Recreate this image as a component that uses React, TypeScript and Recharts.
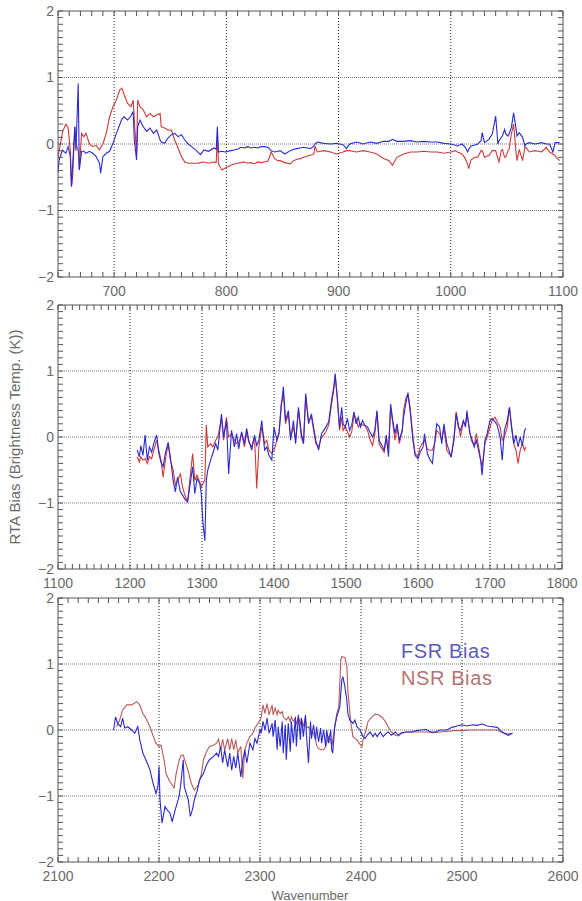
import { Line, LineChart, ReferenceLine, XAxis, YAxis } from "recharts";

// ---- panel 1 : 650 - 1100 ----
const p1Wn = [
  650, 651, 654, 657, 659, 661, 662, 663, 665, 666, 668, 669, 671, 673, 675, 678, 681, 684, 687, 688,
  690, 693, 696, 699, 702, 705, 707, 709, 712, 715, 717, 718, 720, 721, 723, 726, 729, 732, 735, 738,
  741, 742, 745, 748, 751, 754, 757, 760, 763, 766, 769, 774, 777, 780, 784, 789, 791, 792, 793, 796,
  799, 804, 807, 810, 813, 816, 819, 822, 825, 828, 831, 834, 837, 840, 843, 846, 848, 852, 857, 860,
  863, 866, 869, 872, 875, 878, 879, 881, 887, 893, 898, 904, 907, 910, 916, 922, 928, 934, 940, 945,
  948, 952, 958, 964, 970, 976, 982, 988, 994, 1000, 1004, 1006, 1010, 1013, 1015, 1016, 1018, 1021, 1024, 1027,
  1028, 1030, 1034, 1037, 1040, 1042, 1043, 1045, 1046, 1048, 1049, 1051, 1052, 1054, 1056, 1058, 1059, 1061, 1064, 1066,
  1067, 1070, 1075, 1081, 1085, 1087, 1088, 1091, 1093, 1094, 1097,
];
const p1Fsr = [
  -0.44, -0.24, -0.09, -0.14, -0.04, -0.19, -0.64, -0.34, 0.26, -0.1, 0.91, -0.39, -0.11, -0.11, -0.14, -0.11, -0.14, -0.19, -0.29, -0.44,
  -0.19, -0.14, -0.11, 0.01, 0.16, 0.29, 0.38, 0.41, 0.36, 0.42, 0.49, 0.06, -0.24, 0.26, 0.36, 0.26, 0.19, 0.24, 0.16, 0.21,
  0.06, 0.03, 0.01, 0.09, 0.14, 0.16, 0.11, 0.14, 0.06, 0.0, -0.04, -0.11, -0.16, -0.09, -0.11, -0.06, -0.08, 0.26, -0.12, -0.11,
  -0.12, -0.1, -0.09, -0.08, -0.05, -0.06, -0.04, -0.06, -0.05, -0.06, -0.04, -0.04, -0.05, -0.1, -0.12, -0.11, -0.1, -0.15, -0.1, -0.08,
  -0.07, -0.06, -0.05, -0.06, -0.07, -0.03, 0.0, 0.03, 0.01, 0.0, 0.01, -0.01, -0.07, 0.0, 0.03, 0.0, 0.03, 0.01, 0.04, 0.04,
  0.07, 0.04, 0.04, 0.05, 0.03, 0.04, 0.03, 0.03, 0.01, 0.0, -0.02, -0.03, 0.0, -0.05, -0.12, -0.08, -0.03, -0.02, 0.0, 0.05,
  0.17, 0.02, 0.07, 0.15, 0.42, 0.0, 0.05, 0.1, 0.12, 0.22, 0.15, 0.12, 0.15, 0.25, 0.47, 0.25, 0.12, 0.17, 0.1, -0.03,
  0.0, 0.02, 0.0, 0.02, 0.0, 0.0, 0.0, -0.12, 0.02, 0.02, 0.02,
];
const p1Nsr = [
  -0.2, -0.1, 0.18, 0.3, 0.25, -0.1, -0.64, -0.5, 0.26, 0.0, -0.1, -0.39, 0.16, 0.11, 0.16, 0.0, -0.04, -0.02, -0.09, -0.05,
  0.0, 0.16, 0.41, 0.56, 0.66, 0.81, 0.84, 0.74, 0.61, 0.56, 0.66, 0.36, -0.14, 0.66, 0.56, 0.51, 0.41, 0.46, 0.41, 0.44,
  0.46, 0.26, 0.24, 0.21, 0.21, 0.06, -0.06, -0.19, -0.27, -0.29, -0.29, -0.29, -0.28, -0.27, -0.29, -0.27, -0.28, 0.12, -0.3, -0.39,
  -0.36, -0.32, -0.3, -0.29, -0.28, -0.27, -0.29, -0.28, -0.3, -0.27, -0.28, -0.27, -0.26, -0.12, -0.22, -0.25, -0.25, -0.28, -0.3, -0.25,
  -0.23, -0.22, -0.2, -0.18, -0.17, -0.15, -0.03, -0.12, -0.1, -0.12, -0.15, -0.12, -0.1, -0.1, -0.12, -0.1, -0.12, -0.15, -0.22, -0.25,
  -0.32, -0.2, -0.15, -0.12, -0.12, -0.11, -0.12, -0.12, -0.14, -0.12, -0.1, -0.12, -0.15, -0.22, -0.3, -0.37, -0.24, -0.2, -0.2, -0.1,
  -0.1, -0.2, -0.17, -0.1, -0.1, -0.22, -0.27, -0.1, -0.08, -0.2, -0.2, -0.1, -0.08, 0.15, 0.3, -0.1, -0.25, -0.08, -0.25, -0.05,
  -0.05, -0.12, -0.1, -0.12, -0.05, -0.1, -0.12, -0.15, -0.17, -0.2, -0.25,
];

// ---- panel 2 : 1100 - 1800 ----
const p2Wn = [
  1210, 1213, 1215, 1218, 1221, 1224, 1227, 1230, 1233, 1237, 1240, 1243, 1246, 1249, 1253, 1256, 1260, 1263, 1266, 1270,
  1273, 1277, 1280, 1283, 1287, 1290, 1293, 1297, 1299, 1301, 1304, 1306, 1308, 1312, 1315, 1319, 1322, 1327, 1330, 1334,
  1337, 1341, 1345, 1348, 1351, 1355, 1359, 1362, 1365, 1369, 1373, 1376, 1379, 1383, 1387, 1390, 1393, 1397, 1400, 1404,
  1407, 1410, 1413, 1416, 1420, 1423, 1427, 1430, 1434, 1438, 1441, 1444, 1448, 1452, 1455, 1458, 1462, 1466, 1469, 1472,
  1476, 1480, 1483, 1485, 1488, 1491, 1494, 1496, 1499, 1502, 1505, 1508, 1511, 1514, 1517, 1520, 1523, 1526, 1530, 1533,
  1537, 1540, 1543, 1546, 1550, 1553, 1556, 1559, 1562, 1565, 1568, 1571, 1574, 1578, 1580, 1583, 1586, 1589, 1593, 1596,
  1600, 1603, 1607, 1609, 1613, 1616, 1620, 1623, 1626, 1630, 1633, 1636, 1640, 1643, 1646, 1650, 1653, 1656, 1659, 1663,
  1666, 1668, 1672, 1674, 1678, 1681, 1685, 1687, 1689, 1693, 1696, 1700, 1703, 1707, 1710, 1714, 1717, 1720, 1724, 1727,
  1730, 1733, 1736, 1739, 1742, 1745, 1748, 1750,
];
const p2Fsr = [
  -0.2, -0.3, -0.13, -0.28, 0.03, -0.35, -0.15, -0.23, -0.1, 0.03, -0.25, -0.38, -0.45, -0.25, -0.08, -0.3, -0.66, -0.83, -0.61, -0.83,
  -0.88, -0.96, -0.98, -0.76, -0.45, -0.86, -0.63, -0.71, -0.86, -1.26, -1.57, -0.66, -0.5, -0.35, -0.25, -0.1, -0.2, 0.35, 0.0, 0.25,
  -0.56, 0.1, -0.15, 0.05, -0.18, 0.08, -0.1, 0.13, -0.05, -0.2, 0.03, -0.13, -0.05, 0.25, -0.2, -0.15, -0.28, -0.35, 0.15, -0.05,
  0.05, 0.45, 0.76, 0.25, 0.4, -0.05, 0.25, -0.1, 0.45, 0.05, -0.1, 0.66, 0.2, 0.35, 0.15, -0.05, -0.2, 0.05, 0.1, 0.15,
  0.23, 0.56, 0.76, 0.96, 0.56, 0.15, 0.45, 0.2, 0.15, 0.28, 0.1, 0.18, 0.38, 0.2, 0.3, 0.15, 0.25, 0.18, 0.15, 0.08,
  0.0, 0.1, 0.4, -0.05, -0.13, -0.2, 0.03, -0.3, 0.5, 0.25, 0.05, 0.2, -0.05, 0.1, 0.3, 0.5, 0.66, 0.4, -0.05, -0.28,
  -0.33, -0.23, -0.15, 0.05, -0.25, -0.33, -0.4, -0.1, 0.2, 0.15, -0.1, 0.2, -0.1, -0.2, -0.3, -0.05, 0.35, 0.15, 0.1, 0.25,
  0.15, 0.4, 0.05, 0.0, -0.15, -0.05, -0.25, -0.35, -0.58, -0.05, 0.05, 0.25, 0.28, 0.23, 0.18, 0.0, -0.35, 0.1, 0.25, 0.45,
  0.15, -0.1, 0.03, -0.15, 0.0, -0.13, 0.1, 0.13,
];
const p2Nsr = [
  -0.3, -0.38, -0.3, -0.35, -0.33, -0.4, -0.3, -0.33, -0.2, -0.05, -0.2, -0.35, -0.61, -0.35, -0.1, -0.35, -0.5, -0.73, -0.66, -0.56,
  -0.76, -0.91, -0.98, -0.66, -0.25, -0.66, -0.58, -0.68, -0.76, -0.71, -0.66, 0.18, -0.15, -0.1, -0.15, -0.05, 0.0, 0.28, -0.05, 0.3,
  0.0, 0.05, -0.05, -0.1, -0.08, 0.05, -0.15, 0.08, -0.08, -0.15, 0.0, -0.78, -0.15, 0.15, -0.1, -0.05, -0.2, -0.25, -0.2, -0.05,
  0.08, 0.5, 0.66, 0.2, 0.35, 0.0, 0.15, -0.05, 0.4, 0.0, -0.1, 0.61, 0.25, 0.3, 0.1, -0.1, -0.15, 0.0, 0.03, 0.08,
  0.18, 0.5, 0.71, 0.91, 0.61, 0.1, 0.3, 0.1, 0.15, 0.08, 0.0, 0.08, 0.33, 0.28, 0.15, 0.2, 0.18, 0.18, 0.1, -0.03,
  -0.13, 0.05, 0.38, -0.1, -0.18, -0.23, -0.03, -0.2, 0.45, 0.2, -0.05, 0.15, -0.1, 0.08, 0.4, 0.58, 0.66, 0.45, 0.0, -0.25,
  -0.3, -0.15, -0.08, -0.05, -0.18, -0.2, -0.2, -0.1, 0.1, 0.05, -0.05, 0.15, -0.2, -0.25, -0.3, 0.0, 0.38, 0.2, 0.0, 0.23,
  0.2, 0.35, 0.08, -0.05, -0.13, 0.05, -0.2, -0.35, -0.45, -0.1, 0.0, 0.15, 0.25, 0.3, 0.23, 0.15, -0.05, 0.0, 0.15, 0.45,
  0.15, -0.1, -0.2, -0.4, -0.2, -0.1, -0.2, -0.15,
];

// ---- panel 3 : 2100 - 2600 ----
const p3FsrWn = [
  2155, 2157, 2159, 2162, 2164, 2166, 2169, 2173, 2176, 2179, 2181, 2184, 2187, 2191, 2194, 2197, 2199, 2200, 2201, 2203,
  2206, 2208, 2211, 2213, 2216, 2217, 2220, 2222, 2224, 2225, 2227, 2229, 2231, 2233, 2235, 2238, 2240, 2244, 2247, 2250,
  2254, 2257, 2259, 2261, 2263, 2265, 2268, 2270, 2272, 2274, 2276, 2278, 2281, 2283, 2285, 2287, 2290, 2293, 2295, 2297,
  2300, 2301, 2303, 2305, 2307, 2309, 2312, 2313, 2315, 2317, 2318, 2320, 2322, 2323, 2325, 2326, 2328, 2330, 2331, 2333,
  2335, 2336, 2338, 2340, 2341, 2343, 2345, 2346, 2348, 2350, 2351, 2353, 2355, 2356, 2358, 2360, 2361, 2363, 2365, 2366,
  2368, 2370, 2371, 2372, 2374, 2376, 2379, 2381, 2382, 2384, 2386, 2387, 2389, 2392, 2394, 2396, 2399, 2402, 2404, 2406,
  2409, 2412, 2414, 2416, 2419, 2422, 2425, 2427, 2430, 2434, 2437, 2440, 2445, 2450, 2455, 2460, 2464, 2469, 2474, 2478,
  2485, 2490, 2495, 2500, 2505, 2510, 2515, 2520, 2525, 2530, 2535, 2538, 2543, 2546, 2550,
];
const p3Fsr = [
  0.0, 0.2, 0.1, 0.05, 0.18, 0.03, 0.05, 0.0, -0.05, 0.05, -0.15, -0.35, -0.45, -0.6, -0.8, -0.96, -0.85, -0.55, -1.06, -1.41,
  -1.16, -1.21, -1.26, -1.39, -1.21, -1.16, -1.0, -0.76, -0.45, -0.86, -0.96, -1.06, -1.31, -1.21, -1.06, -0.91, -0.76, -0.66, -0.53, -0.45,
  -0.4, -0.35, -0.4, -0.25, -0.5, -0.3, -0.56, -0.35, -0.61, -0.4, -0.58, -0.35, -0.71, -0.45, -0.3, -0.5, -0.2, -0.3, -0.13, -0.2,
  0.0, -0.05, 0.13, 0.0, 0.18, -0.05, 0.1, -0.1, 0.15, -0.3, 0.05, -0.25, 0.13, -0.35, 0.08, -0.45, 0.1, -0.33, 0.13, -0.2,
  0.2, -0.25, 0.23, -0.15, 0.18, -0.1, 0.23, -0.08, -0.5, 0.13, -0.13, 0.08, -0.15, 0.05, -0.18, 0.03, -0.2, 0.0, -0.25, 0.0,
  -0.2, 0.0, -0.3, -0.35, 0.05, 0.2, 0.35, 0.76, 0.81, 0.66, 0.45, 0.25, 0.15, 0.1, 0.15, 0.05, 0.0, -0.1, -0.13, -0.08,
  -0.03, -0.1, -0.05, -0.1, -0.03, -0.1, -0.05, -0.03, -0.08, -0.03, -0.08, -0.05, -0.03, -0.03, -0.01, 0.0, 0.01, -0.03, -0.03, 0.0,
  0.0, 0.04, 0.06, 0.08, 0.06, 0.08, 0.07, 0.09, 0.06, 0.05, 0.04, -0.01, -0.06, -0.08, -0.05,
];
const p3NsrWn = [
  2158, 2161, 2164, 2168, 2173, 2178, 2181, 2184, 2187, 2191, 2194, 2197, 2200, 2202, 2205, 2207, 2210, 2212, 2215, 2217,
  2220, 2222, 2224, 2226, 2229, 2232, 2235, 2239, 2242, 2244, 2247, 2250, 2254, 2257, 2259, 2261, 2263, 2265, 2268, 2270,
  2272, 2274, 2276, 2278, 2281, 2283, 2285, 2287, 2290, 2293, 2295, 2297, 2300, 2301, 2303, 2305, 2307, 2309, 2312, 2313,
  2315, 2317, 2318, 2320, 2322, 2323, 2326, 2328, 2330, 2331, 2333, 2335, 2336, 2338, 2340, 2341, 2343, 2345, 2346, 2348,
  2350, 2353, 2355, 2356, 2358, 2360, 2363, 2365, 2366, 2368, 2370, 2371, 2373, 2374, 2376, 2378, 2380, 2381, 2384, 2386,
  2387, 2390, 2392, 2396, 2398, 2401, 2402, 2405, 2407, 2411, 2414, 2417, 2421, 2424, 2427, 2430, 2434, 2437, 2440, 2445,
  2452, 2459, 2465, 2472, 2478, 2485, 2492, 2500, 2508, 2518, 2528, 2535, 2540, 2545, 2550,
];
const p3Nsr = [
  0.05, 0.15, 0.3, 0.38, 0.38, 0.43, 0.38, 0.25, 0.18, 0.05, -0.08, -0.2, -0.25, -0.23, -0.45, -0.66, -0.76, -0.81, -0.88, -0.66,
  -0.45, -0.38, -0.38, -0.48, -0.63, -0.81, -0.91, -0.83, -0.66, -0.45, -0.33, -0.25, -0.23, -0.2, -0.14, -0.3, -0.14, -0.3, -0.13, -0.3,
  -0.13, -0.3, -0.15, -0.35, -0.25, -0.73, -0.3, -0.2, -0.1, -0.05, 0.03, 0.08, 0.15, 0.18, 0.38, 0.25, 0.4, 0.23, 0.38, 0.23,
  0.33, 0.23, 0.3, 0.25, 0.28, 0.2, 0.15, 0.2, 0.13, 0.2, 0.13, 0.18, 0.08, 0.2, 0.08, 0.18, 0.05, 0.2, 0.03, 0.05,
  0.0, -0.05, -0.15, -0.23, -0.28, -0.3, -0.3, -0.25, -0.2, -0.1, -0.15, -0.25, -0.05, 0.05, 0.25, 0.35, 1.06, 1.11, 1.1, 0.96,
  0.6, 0.1, -0.1, -0.15, -0.2, -0.25, -0.15, 0.0, 0.13, 0.2, 0.24, 0.23, 0.19, 0.13, 0.05, -0.03, -0.08, -0.09, -0.04, -0.03,
  -0.03, -0.03, -0.03, -0.04, -0.03, -0.02, -0.01, -0.01, 0.0, 0.0, 0.0, 0.0, -0.04, -0.06, -0.05,
];

const yLabels = [-2, -1, 0, 1, 2];
const yGrid = [-1, 0, 1];
const p1Grid = [700, 800, 900, 1000];
const p2Grid = [1200, 1300, 1400, 1500, 1600, 1700];
const p3Grid = [2200, 2300, 2400, 2500];
const seriesNames = ["FSR Bias", "NSR Bias"];

const FSR = "#2a2ad2";
const NSR = "#d03838";
const FONT = "'Liberation Sans', Arial, sans-serif";
const TXT = "#6a6a6a";
const FRAME = "#555";

const yMinor = Array.from({ length: 41 }, (_, i) => (i - 20) / 10);
const minorTicks = (lo: number, hi: number) =>
  Array.from({ length: (hi - lo) / 10 + 1 }, (_, i) => lo + i * 10);

const pts = (wn: number[], vals: number[]) => wn.map((w, i) => ({ wn: w, v: vals[i] }));

const fmtY = (v: number) => (yLabels.includes(v) ? (v < 0 ? "\u2212" + Math.abs(v) : String(v)) : "");
const fmtX = (v: number) => (v % 100 === 0 ? String(v) : "");
const blank = () => "";

const tickStyle = { fontSize: 14, fill: TXT, fontFamily: FONT };

type PanelProps = {
  top: number;
  height: number;
  marginTop: number;
  marginRight: number;
  domain: [number, number];
  grid: number[];
  fsr: { wn: number; v: number }[];
  nsr: { wn: number; v: number }[];
  nsrColor?: string;
};

function Panel({ top, height, marginTop, marginRight, domain, grid, fsr, nsr, nsrColor }: PanelProps) {
  const xt = minorTicks(domain[0], domain[1]);
  const xCommon = { dataKey: "wn", type: "number" as const, domain, ticks: xt, interval: 0, allowDataOverflow: true };
  const yCommon = { type: "number" as const, domain: [-2, 2], ticks: yMinor, interval: 0, allowDataOverflow: true };
  return (
    <div style={{ position: "absolute", left: 0, top }}>
      <LineChart width={582} height={height} margin={{ top: marginTop, right: marginRight, left: 18, bottom: 0 }}>
        {/* labelled axes */}
        <XAxis xAxisId="b" {...xCommon} height={23} tickLine={false} axisLine={false} tickSize={0} tickMargin={9} tickFormatter={fmtX} tick={tickStyle} />
        <YAxis yAxisId="l" {...yCommon} width={40} tickLine={false} axisLine={false} tickSize={0} tickMargin={4} tickFormatter={fmtY} tick={tickStyle} />
        {/* frame with inward ticks */}
        <XAxis xAxisId="bm" {...xCommon} mirror height={1} tickSize={5} tickFormatter={blank} stroke={FRAME} />
        <XAxis xAxisId="t" orientation="top" {...xCommon} mirror height={1} tickSize={5} tickFormatter={blank} stroke={FRAME} />
        <YAxis yAxisId="lm" {...yCommon} mirror width={1} tickSize={5} tickFormatter={blank} stroke={FRAME} />
        <YAxis yAxisId="r" orientation="right" {...yCommon} mirror width={1} tickSize={5} tickFormatter={blank} stroke={FRAME} />
        {yGrid.map((g) => (
          <ReferenceLine key={"h" + g} xAxisId="b" yAxisId="l" y={g} stroke="#777" strokeDasharray="1 1" />
        ))}
        {grid.map((g) => (
          <ReferenceLine key={"v" + g} xAxisId="b" yAxisId="l" x={g} stroke="#222" strokeDasharray="1 2" />
        ))}
        <Line xAxisId="bm" yAxisId="lm" data={fsr} dataKey="v" stroke="none" dot={false} legendType="none" isAnimationActive={false} />
        <Line xAxisId="t" yAxisId="r" data={nsr} dataKey="v" name={seriesNames[1]} stroke={nsrColor ?? NSR} strokeWidth={1.1} dot={false} isAnimationActive={false} />
        <Line xAxisId="b" yAxisId="l" data={fsr} dataKey="v" name={seriesNames[0]} stroke={FSR} strokeWidth={1.1} dot={false} isAnimationActive={false} />
      </LineChart>
    </div>
  );
}

export default function App() {
  return (
    <div style={{ position: "absolute", left: 0, top: 0, width: 582, height: 901, background: "#fff", overflow: "hidden" }}>
      <Panel top={0} height={300} marginTop={11} marginRight={19} domain={[650, 1100]} grid={p1Grid} fsr={pts(p1Wn, p1Fsr)} nsr={pts(p1Wn, p1Nsr)} />
      <Panel top={294} height={298} marginTop={11} marginRight={20} domain={[1100, 1800]} grid={p2Grid} fsr={pts(p2Wn, p2Fsr)} nsr={pts(p2Wn, p2Nsr)} />
      <Panel
        top={587}
        height={298}
        marginTop={11}
        marginRight={19}
        domain={[2100, 2600]}
        grid={p3Grid}
        fsr={pts(p3FsrWn, p3Fsr)}
        nsr={pts(p3NsrWn, p3Nsr)}
        nsrColor="#b85c5c"
      />
      <div style={{ position: "absolute", left: 401, top: 638, fontFamily: FONT, fontSize: 20, letterSpacing: 0.6, lineHeight: "27px" }}>
        <div style={{ color: "#5c5cb8" }}>{seriesNames[0]}</div>
        <div style={{ color: "#b47474" }}>{seriesNames[1]}</div>
      </div>
      <div
        style={{
          position: "absolute",
          left: 14,
          top: 437,
          transform: "translate(-50%, -50%) rotate(-90deg)",
          whiteSpace: "nowrap",
          fontFamily: FONT,
          fontSize: 15,
          color: TXT,
        }}
      >
        RTA Bias (Brightness Temp. (K))
      </div>
      <div style={{ position: "absolute", left: 310, top: 895, transform: "translate(-50%, -50%)", fontFamily: FONT, fontSize: 13, color: TXT }}>
        Wavenumber
      </div>
    </div>
  );
}
